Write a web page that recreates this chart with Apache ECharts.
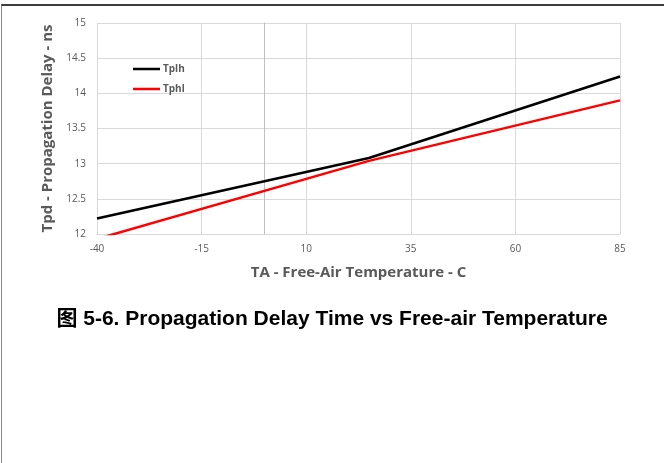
<!DOCTYPE html>
<html>
<head>
<meta charset="utf-8">
<script src="https://cdn.jsdelivr.net/npm/echarts@6/dist/echarts.min.js"></script>
<style>
  html, body { margin: 0; padding: 0; background: #fff; }
  #frame { position: absolute; left: 1px; top: 4px; width: 663px; height: 459px;
           border-top: 2px solid #3c3c3c; border-left: 1px solid #8a8a8a; }
  #chart { position: absolute; left: 0; top: 0; width: 664px; height: 463px; }
</style>
</head>
<body>
<div id="frame"></div>
<div id="chart"></div>
<script>
// 温度点 (°C)
const temps = [-40, 25, 85];
// 传播延迟 (ns)
const tplh = [12.22, 13.08, 14.24];
const tphl = [11.93, 13.04, 13.90];
const seriesNames = ["Tplh", "Tphl"];
const xTicks = { min: -40, max: 85, step: 25 };
const yTicks = { min: 12, max: 15, step: 0.5 };

const gray = "#595959";
const font = "Open Sans";

const chart = echarts.init(document.getElementById("chart"), null, { renderer: "canvas" });

chart.setOption({
  animation: false,
  title: {
    text: "图 5-6. Propagation Delay Time vs Free-air Temperature",
    left: "center",
    top: 304,
    textStyle: { fontFamily: "Liberation Sans, Noto Sans CJK SC", fontWeight: "bold", fontSize: 21, color: "#000" },
  },
  legend: {
    orient: "vertical",
    left: 128,
    top: 59,
    icon: "rect",
    itemWidth: 27,
    itemHeight: 2.5,
    itemGap: 10,
    textStyle: { fontFamily: font, fontWeight: "bold", fontSize: 10, color: gray, padding: [0, 0, 0, -2] },
    data: seriesNames,
  },
  grid: { left: 97, right: 44, top: 23, bottom: 229 },
  xAxis: {
    type: "value",
    min: xTicks.min, max: xTicks.max, interval: xTicks.step,
    name: "TA - Free-Air Temperature - C",
    nameLocation: "middle",
    nameGap: 31,
    nameTextStyle: { fontFamily: font, fontWeight: "bold", fontSize: 15, color: gray },
    axisLine: { lineStyle: { color: "#d9d9d9" } },
    axisTick: { show: false },
    axisLabel: { fontFamily: font, fontSize: 10, color: gray, margin: 10 },
    splitLine: { lineStyle: { color: "#d9d9d9" } },
  },
  yAxis: {
    type: "value",
    min: yTicks.min, max: yTicks.max, interval: yTicks.step,
    name: "Tpd - Propagation Delay - ns",
    nameLocation: "middle",
    nameGap: 35,
    nameTextStyle: { fontFamily: font, fontWeight: "bold", fontSize: 15, color: gray },
    axisLine: { show: true, onZero: true, lineStyle: { color: "#bfbfbf" } },
    axisTick: { show: false },
    axisLabel: { fontFamily: font, fontSize: 10, color: gray, margin: 11 },
    splitLine: { lineStyle: { color: "#d9d9d9" } },
  },
  series: [
    { name: seriesNames[0], type: "line", symbol: "none", clip: true,
      lineStyle: { color: "#000", width: 2.5 }, itemStyle: { color: "#000" },
      data: temps.map((t, i) => [t, tplh[i]]) },
    { name: seriesNames[1], type: "line", symbol: "none", clip: true,
      lineStyle: { color: "#ff0000", width: 2.5 }, itemStyle: { color: "#ff0000" },
      data: temps.map((t, i) => [t, tphl[i]]) },
  ],
});
</script>
</body>
</html>
